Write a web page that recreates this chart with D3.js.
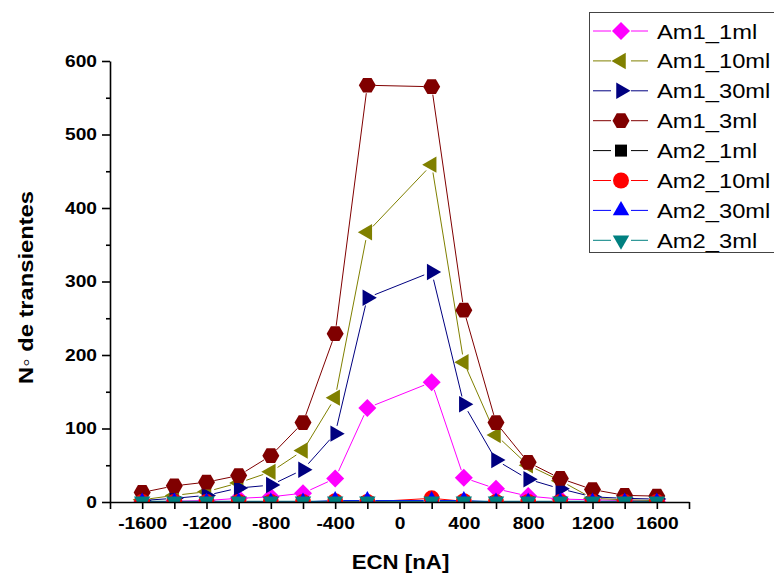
<!DOCTYPE html>
<html>
<head>
<meta charset="utf-8">
<script src="https://cdn.jsdelivr.net/npm/d3@7"></script>
<style>
  html, body { margin: 0; padding: 0; background: #fff; }
  svg { display: block; font-family: "Liberation Sans", Arial, sans-serif; }
</style>
</head>
<body>
<svg id="chart" width="774" height="574"></svg>
<script>
// ---------- data ----------
const xValues = [-1600, -1400, -1200, -1000, -800, -600, -400, -200, 200, 400, 600, 800, 1000, 1200, 1400, 1600];
const seriesNames = ["Am1_1ml", "Am1_10ml", "Am1_30ml", "Am1_3ml", "Am2_1ml", "Am2_10ml", "Am2_30ml", "Am2_3ml"];
const am1_1ml  = [0, 1, 2, 5, 7, 12, 32, 128, 163, 33, 18, 8, 4, 3, 2, 1];
const am1_10ml = [3, 9, 14, 26, 41, 70, 142, 367, 459, 190, 91, 50, 29, 5, 3, 2];
const am1_30ml = [2, 5, 9, 19, 23, 44, 93, 278, 313, 133, 57, 31, 18, 7, 5, 4];
const am1_3ml  = [13, 22, 27, 36, 63, 108, 229, 567, 565, 261, 108, 54, 32, 17, 9, 8];
const am2_1ml  = [0, 0, 0, 0, 0, 0, 0, 0, 0, 0, 0, 0, 0, 0, 0, 0];
const am2_10ml = [0, 0, 0, 0, 0, 0, 1, 0, 5, 1, 0, 0, 0, 0, 0, 0];
const am2_30ml = [0, 0, 0, 0, 0, 0, 2, 2, 2, 2, 0, 0, 0, 0, 0, 0];
const am2_3ml  = [1, 1, 1, 1, 1, 1, 1, 1, 1, 1, 1, 1, 1, 1, 1, 1];
const seriesValues = [am1_1ml, am1_10ml, am1_30ml, am1_3ml, am2_1ml, am2_10ml, am2_30ml, am2_3ml];
const seriesColors = ["#ff00ff", "#808000", "#000080", "#800000", "#000000", "#ff0000", "#0000ff", "#008080"];
const seriesShapes = ["diamond", "triLeft", "triRight", "hexagon", "square", "circle", "triUp", "triDown"];
const xTickLabels = [-1600, -1200, -800, -400, 0, 400, 800, 1200, 1600];
const xTickAll = [-1800, -1600, -1400, -1200, -1000, -800, -600, -400, -200, 0, 200, 400, 600, 800, 1000, 1200, 1400, 1600, 1800];
const yTickLabels = [0, 100, 200, 300, 400, 500, 600];
const yTickMinor = [50, 150, 250, 350, 450, 550];
const xTitle = "ECN [nA]";
const yTitle = "N\u25E6 de transientes";

// ---------- layout ----------
const svg = d3.select("#chart");
const x = d3.scaleLinear().domain([-1800, 1800]).range([110, 689]);
const y = d3.scaleLinear().domain([0, 600]).range([502, 61]);
const stretch = 1.13; // glyphs in the reference are horizontally wide

function markerPath(shape) {
  const p = d3.path();
  if (shape === "diamond") {
    const r = 9; p.moveTo(0, -r); p.lineTo(r, 0); p.lineTo(0, r); p.lineTo(-r, 0); p.closePath();
  } else if (shape === "square") {
    const s = 6; p.rect(-s, -s, 2 * s, 2 * s);
  } else if (shape === "circle") {
    p.arc(0, 0, 8, 0, 2 * Math.PI);
  } else if (shape === "hexagon") {
    const r = 8.5;
    for (let i = 0; i < 6; i++) {
      const a = Math.PI / 3 * i;
      const px = r * Math.cos(a), py = r * Math.sin(a);
      if (i === 0) p.moveTo(px, py); else p.lineTo(px, py);
    }
    p.closePath();
  } else {
    const r = 9.5;
    const rot = { triUp: -90, triDown: 90, triLeft: 180, triRight: 0 }[shape] * Math.PI / 180;
    for (let i = 0; i < 3; i++) {
      const a = rot + i * 2 * Math.PI / 3;
      const px = r * Math.cos(a), py = r * Math.sin(a);
      if (i === 0) p.moveTo(px, py); else p.lineTo(px, py);
    }
    p.closePath();
  }
  return p.toString();
}

svg.append("defs").append("clipPath").attr("id", "plotclip")
  .append("rect").attr("x", x.range()[0]).attr("y", 0)
  .attr("width", x.range()[1] - x.range()[0]).attr("height", y(0) + 1);

const plot = svg.append("g").attr("clip-path", "url(#plotclip)");
const gap = 8;

seriesNames.forEach((name, si) => {
  const vals = seriesValues[si];
  const pts = xValues.map((xv, i) => [x(xv), y(vals[i])]);
  const g = plot.append("g");
  for (let i = 0; i < pts.length - 1; i++) {
    const [x1, y1] = pts[i], [x2, y2] = pts[i + 1];
    const dx = x2 - x1, dy = y2 - y1, len = Math.hypot(dx, dy);
    if (len <= 2 * gap) continue;
    const ux = dx / len, uy = dy / len;
    g.append("line")
      .attr("x1", x1 + ux * gap).attr("y1", y1 + uy * gap)
      .attr("x2", x2 - ux * gap).attr("y2", y2 - uy * gap)
      .attr("stroke", seriesColors[si]).attr("stroke-width", 1);
  }
  g.selectAll("path.m").data(pts).enter().append("path")
    .attr("class", "m")
    .attr("d", markerPath(seriesShapes[si]))
    .attr("transform", d => `translate(${d[0]},${d[1]})`)
    .attr("fill", seriesColors[si]);
});

// ---------- axes ----------
const xAxis = d3.axisBottom(x).tickValues(xTickAll).tickSize(7).tickSizeOuter(0)
  .tickFormat(d => xTickLabels.includes(d) ? String(d) : "");
const gx = svg.append("g").attr("transform", `translate(0,${y(0)})`).call(xAxis);
gx.select(".domain").attr("stroke", "#000").attr("stroke-width", 1.6);
gx.selectAll(".tick line").attr("stroke", "#000").attr("stroke-width", 1.6);
gx.selectAll(".tick text").attr("font-size", 17).attr("font-weight", "bold")
  .attr("font-family", "Liberation Sans, Arial, sans-serif").attr("fill", "#000")
  .attr("dy", "1.02em").attr("transform", `scale(${stretch},1)`);

const yAxis = d3.axisLeft(y).tickValues(yTickLabels).tickSize(8).tickSizeOuter(0)
  .tickPadding(3.5).tickFormat(d => String(d));
const gy = svg.append("g").attr("transform", `translate(${x.range()[0]},0)`).call(yAxis);
gy.select(".domain").attr("stroke", "#000").attr("stroke-width", 1.6);
gy.selectAll(".tick line").attr("stroke", "#000").attr("stroke-width", 1.6);
gy.selectAll(".tick text").attr("font-size", 17).attr("font-weight", "bold")
  .attr("font-family", "Liberation Sans, Arial, sans-serif").attr("fill", "#000")
  .attr("transform", `scale(${stretch},1)`);

const yMinor = d3.axisLeft(y).tickValues(yTickMinor).tickSize(4).tickSizeOuter(0).tickFormat("");
const gym = svg.append("g").attr("transform", `translate(${x.range()[0]},0)`).call(yMinor);
gym.select(".domain").remove();
gym.selectAll(".tick line").attr("stroke", "#000").attr("stroke-width", 1.6);

// axis titles
svg.append("text")
  .attr("transform", `translate(${(x.range()[0] + x.range()[1]) / 2 + 1},569) scale(1.06,1)`)
  .attr("text-anchor", "middle").attr("font-size", 21).attr("font-weight", "bold").text(xTitle);
svg.append("text")
  .attr("transform", `translate(33,${(y.range()[0] + y.range()[1]) / 2 + 6}) rotate(-90) scale(${stretch},1)`)
  .attr("text-anchor", "middle").attr("font-size", 21).attr("font-weight", "bold").text(yTitle);

// ---------- legend ----------
const lg = svg.append("g");
lg.append("rect").attr("x", 589.5).attr("y", 12.5).attr("width", 200).attr("height", 240)
  .attr("fill", "#fff").attr("stroke", "#444").attr("stroke-width", 1);
seriesNames.forEach((name, si) => {
  const cy = 31 + si * 29.9;
  lg.append("line").attr("x1", 593).attr("x2", 611).attr("y1", cy).attr("y2", cy)
    .attr("stroke", seriesColors[si]).attr("stroke-width", 1);
  lg.append("line").attr("x1", 631).attr("x2", 648).attr("y1", cy).attr("y2", cy)
    .attr("stroke", seriesColors[si]).attr("stroke-width", 1);
  lg.append("path").attr("d", markerPath(seriesShapes[si]))
    .attr("transform", `translate(621,${cy})`).attr("fill", seriesColors[si]);
  lg.append("text").attr("transform", `translate(657,${cy + 7.5}) scale(${stretch},1)`)
    .attr("font-size", 21).attr("fill", "#000").text(name);
});
</script>
</body>
</html>
